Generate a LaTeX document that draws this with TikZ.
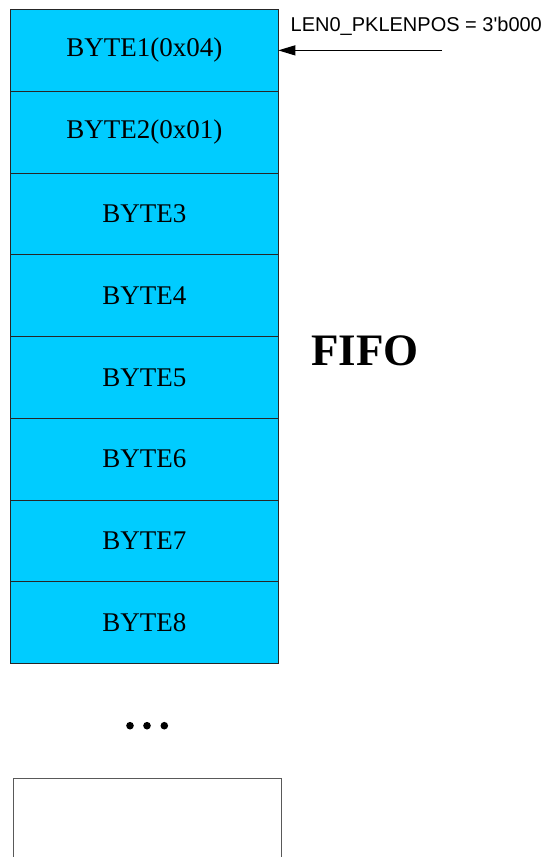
\documentclass[tikz,border=0pt]{standalone}
\usepackage{fontspec}
\setmainfont{Liberation Serif}
\newfontfamily\arialfont{Liberation Sans}
\usetikzlibrary{arrows.meta}
\definecolor{fifocyan}{HTML}{00CCFF}
\tikzset{
  bytebox/.style={rectangle, draw=black!85, line width=0.9pt, fill=fifocyan,
    minimum width=268pt, minimum height=81.75pt, inner sep=0pt, outer sep=0pt, anchor=north,
    font=\fontsize{27}{30}\selectfont},
  emptybox/.style={rectangle, draw=black!65, line width=0.9pt, fill=white,
    minimum width=268pt, minimum height=120pt, inner sep=0pt, outer sep=0pt, anchor=north},
  dotmark/.style={circle, fill=black, inner sep=0pt, minimum size=7.6pt},
  ptrarrow/.style={-{Triangle[length=17pt,width=10pt]}, line width=1.1pt, black},
  labeltext/.style={inner sep=0pt, anchor=base west, font=\arialfont\fontsize{20}{22}\selectfont},
  titletext/.style={inner sep=0pt, anchor=base, font=\bfseries\fontsize{45}{48}\selectfont}
}
\begin{document}
\begin{tikzpicture}[x=1pt,y=-1pt]
\clip (0,0) rectangle (544,857);
\fill[white] (0,0) rectangle (544,857);
\node[bytebox] (b1) at (144.25,9.5) {BYTE1(0x04)};
\node[bytebox] (b2) at (b1.south) {BYTE2(0x01)};
\node[bytebox] (b3) at (b2.south) {BYTE3};
\node[bytebox] (b4) at (b3.south) {BYTE4};
\node[bytebox] (b5) at (b4.south) {BYTE5};
\node[bytebox] (b6) at (b5.south) {BYTE6};
\node[bytebox] (b7) at (b6.south) {BYTE7};
\node[bytebox] (b8) at (b7.south) {BYTE8};
\node[emptybox] (bn) at (147,778) {};
\node[dotmark] (d1) at (130,725.7) {};
\node[dotmark] (d2) at (147,725.7) {};
\node[dotmark] (d3) at (164.3,725.7) {};
\node[titletext] (fifo) at (365,365.5) {FIFO};
\node[labeltext] (lbl) at (290.5,31.7) {LEN0\_PKLENPOS = 3'b000};
\coordinate (astart) at (442,0 |- b1.east);
\draw[ptrarrow] (astart) -- (b1.east);
\end{tikzpicture}
\end{document}
